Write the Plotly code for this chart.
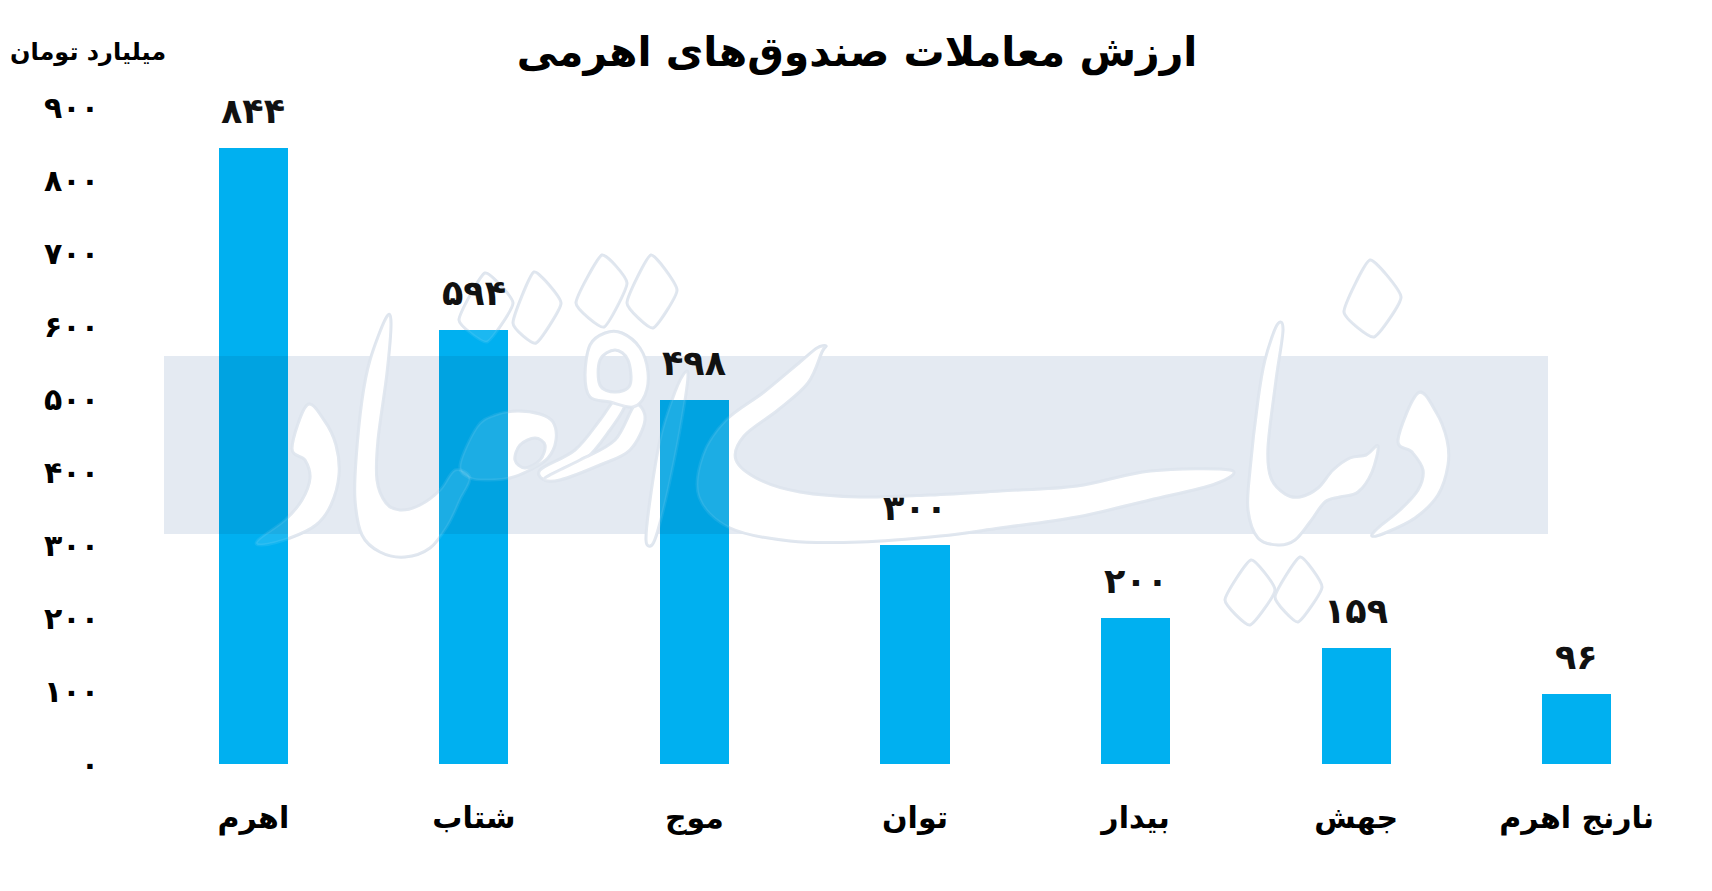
import plotly.graph_objects as go

categories = ["اهرم", "شتاب", "موج", "توان", "بیدار", "جهش", "نارنج اهرم"]
values = [844, 594, 498, 300, 200, 159, 96]
tick_values = [0, 100, 200, 300, 400, 500, 600, 700, 800, 900]

title_text = "ارزش معاملات صندوق‌های اهرمی"
unit_text = "میلیارد تومان"

PERSIAN = str.maketrans("0123456789", "۰۱۲۳۴۵۶۷۸۹")


def fa(n):
    return str(n).translate(PERSIAN)


FONT = "DejaVu Sans"
W, H = 1712, 891
L, R, T, B = 135, 33, 99, 135
PW, PH = W - L - R, H - T - B
YMAX = 900
OFF = 8  # page offset of the drawing


def px_x(x):
    return (x - L) / PW


def px_y(y):
    return (H - B - y) / PH


def sx(X):
    return px_x(X - OFF)


def sy(Y):
    return px_y(Y - OFF)


def smooth_ring(ring, k):
    n = len(ring)
    p = lambda i: ring[i % n]
    s = f"M{sx(p(0)[0]):.5f},{sy(p(0)[1]):.5f}"
    for i in range(n):
        p0, p1, p2, p3 = p(i - 1), p(i), p(i + 1), p(i + 2)
        c1 = (p1[0] + (p2[0] - p0[0]) * k, p1[1] + (p2[1] - p0[1]) * k)
        c2 = (p2[0] - (p3[0] - p1[0]) * k, p2[1] - (p3[1] - p1[1]) * k)
        s += (f" C{sx(c1[0]):.5f},{sy(c1[1]):.5f} {sx(c2[0]):.5f},{sy(c2[1]):.5f}"
              f" {sx(p2[0]):.5f},{sy(p2[1]):.5f}")
    return s + " Z"


def path(rings, k):
    return " ".join(smooth_ring(r, k) for r in rings)


# watermark band (screen pixels)
BAND = (164, 1548, 356, 534)
band_lo = sy(BAND[3]) * YMAX
band_hi = sy(BAND[2]) * YMAX

# watermark calligraphy outlines (screen pixels)
swash = [(1230, 470), (1150, 471), (1077, 486), (1000, 491), (930, 495), (860, 497),
         (800, 492), (760, 480), (736, 460), (744, 436), (778, 410), (808, 383),
         (822, 352), (826, 346), (817, 348), (800, 362), (764, 392), (726, 420),
         (703, 455), (699, 497), (730, 528), (790, 541), (860, 542), (940, 536),
         (1000, 528), (1077, 517), (1150, 500), (1215, 484)]
right_alef = [(1277, 325), (1283, 330), (1276, 380), (1268, 447), (1271, 478), (1285, 494),
              (1300, 497), (1318, 488), (1333, 470), (1350, 458), (1366, 455), (1378, 446),
              (1372, 472), (1358, 492), (1340, 497), (1325, 502), (1310, 522), (1295, 540),
              (1278, 545), (1258, 538), (1248, 510), (1250, 470), (1258, 400), (1265, 360)]
right_dal = [(1418, 393), (1436, 412), (1447, 440), (1448, 465), (1438, 495), (1415, 518),
             (1385, 533), (1372, 536), (1378, 528), (1400, 510), (1418, 490), (1423, 470),
             (1412, 452), (1398, 440)]
left_dal = [(307, 405), (324, 420), (336, 445), (339, 475), (331, 505), (316, 525),
            (290, 538), (262, 545), (258, 540), (285, 520), (302, 500), (310, 478),
            (305, 460), (292, 448)]
left_alef = [(386, 318), (391, 323), (387, 373), (378, 440), (377, 480), (386, 503),
             (400, 510), (420, 505), (440, 490), (455, 470), (470, 478), (460, 500),
             (448, 525), (430, 548), (405, 557), (380, 552), (362, 535), (355, 500),
             (356, 460), (362, 400), (370, 360)]
sad_outer = [(477, 427), (495, 415), (517, 411), (540, 414), (553, 422), (556, 440),
             (548, 458), (530, 470), (510, 478), (490, 480), (470, 478), (460, 465)]
sad_hole = [(515, 460), (525, 468), (540, 460), (545, 445), (535, 438), (520, 445)]
link1 = [(540, 470), (575, 450), (600, 420), (615, 400), (625, 405), (610, 430),
         (585, 460), (550, 480)]
link2 = [(635, 405), (645, 420), (630, 450), (600, 465), (560, 480), (545, 478),
         (580, 460), (615, 440)]
qaf_outer = [(590, 345), (605, 333), (622, 333), (640, 348), (648, 372), (645, 395),
             (633, 407), (610, 402), (590, 397), (585, 375)]
qaf_hole = [(615, 350), (628, 360), (630, 385), (615, 392), (600, 385), (600, 360)]
thin_alef = [(683, 375), (688, 377), (680, 430), (668, 490), (658, 530), (652, 545),
             (646, 540), (650, 500), (660, 440), (672, 400)]
dots = [
    [(459, 320), (485, 273), (513, 303), (487, 342)],
    [(513, 323), (534, 272), (561, 303), (536, 343)],
    [(576, 303), (602, 255), (627, 283), (604, 327)],
    [(627, 303), (651, 255), (677, 290), (653, 328)],
    [(1344, 312), (1370, 260), (1401, 297), (1374, 337)],
    [(1225, 600), (1251, 560), (1275, 590), (1250, 625)],
    [(1275, 597), (1300, 557), (1322, 587), (1298, 622)],
]
strokes = [([swash], 1 / 6), ([right_alef], 1 / 6), ([right_dal], 1 / 6), ([left_dal], 1 / 6),
           ([left_alef], 1 / 6), ([sad_outer, sad_hole], 1 / 6), ([link1], 1 / 6),
           ([link2], 1 / 6), ([qaf_outer, qaf_hole], 1 / 6), ([thin_alef], 1 / 6)]
strokes += [([d], 1 / 12) for d in dots]

fig = go.Figure()
fig.add_trace(go.Bar(
    x=categories,
    y=values,
    marker=dict(color="#00B0F0", line=dict(width=0)),
    width=0.313,
    hoverinfo="skip",
))

# part of each bar seen through the band
seg_cats = [c for c, v in zip(categories, values) if v > band_lo]
seg_base = [band_lo for v in values if v > band_lo]
seg_len = [min(v, band_hi) - band_lo for v in values if v > band_lo]
fig.add_trace(go.Bar(
    x=seg_cats,
    y=seg_len,
    base=seg_base,
    marker=dict(color="#00A3E1", line=dict(width=0)),
    width=0.313,
    hoverinfo="skip",
))

for c, v in zip(categories, values):
    fig.add_annotation(
        x=c, y=v, xref="x", yref="y",
        text=fa(v), showarrow=False,
        yanchor="middle", yshift=37,
        font=dict(family=FONT, size=35, color="#111111", weight="bold"),
    )

fig.update_layout(
    width=W, height=H,
    margin=dict(l=L, r=R, t=T, b=B),
    paper_bgcolor="white",
    plot_bgcolor="rgba(0,0,0,0)",
    showlegend=False,
    barmode="overlay",
    title=dict(
        text=title_text,
        x=849 / W, xanchor="center",
        y=1 - 44 / H, yanchor="middle",
        font=dict(family=FONT, size=41, color="#000000", weight="bold"),
    ),
    xaxis=dict(
        type="category",
        range=[-0.5, 6.5],
        showgrid=False, zeroline=False, showline=False,
        ticks="",
        tickfont=dict(family=FONT, size=30, color="#000000", weight="bold"),
        ticklabelstandoff=33,
    ),
    yaxis=dict(
        range=[0, YMAX],
        showgrid=False, zeroline=False, showline=False,
        ticks="",
        tickvals=tick_values,
        ticktext=[fa(v) for v in tick_values],
        tickfont=dict(family=FONT, size=30, color="#000000", weight="bold"),
        ticklabelstandoff=43,
    ),
    bargap=0,
)

shapes = [dict(
    type="rect", xref="paper", yref="paper",
    x0=sx(BAND[0]), x1=sx(BAND[1]), y0=sy(BAND[3]), y1=sy(BAND[2]),
    fillcolor="#E4EAF2", line=dict(width=0), layer="below",
)]
for rings, k in strokes:
    shapes.append(dict(
        type="path", xref="paper", yref="paper", path=path(rings, k),
        fillcolor="white", line=dict(color="#DCE3ED", width=3), layer="below",
    ))
for rings, k in strokes:
    shapes.append(dict(
        type="path", xref="paper", yref="paper", path=path(rings, k),
        fillcolor="rgba(255,255,255,0.11)", line=dict(color="rgba(255,255,255,0.08)", width=3),
        layer="above",
    ))
fig.update_layout(shapes=shapes)

fig.add_annotation(
    text=unit_text,
    xref="paper", yref="paper",
    x=px_x(0), xanchor="left",
    y=px_y(44), yanchor="middle",
    showarrow=False,
    font=dict(family=FONT, size=24, color="#000000", weight="bold"),
)

fig.write_html("out.html")
